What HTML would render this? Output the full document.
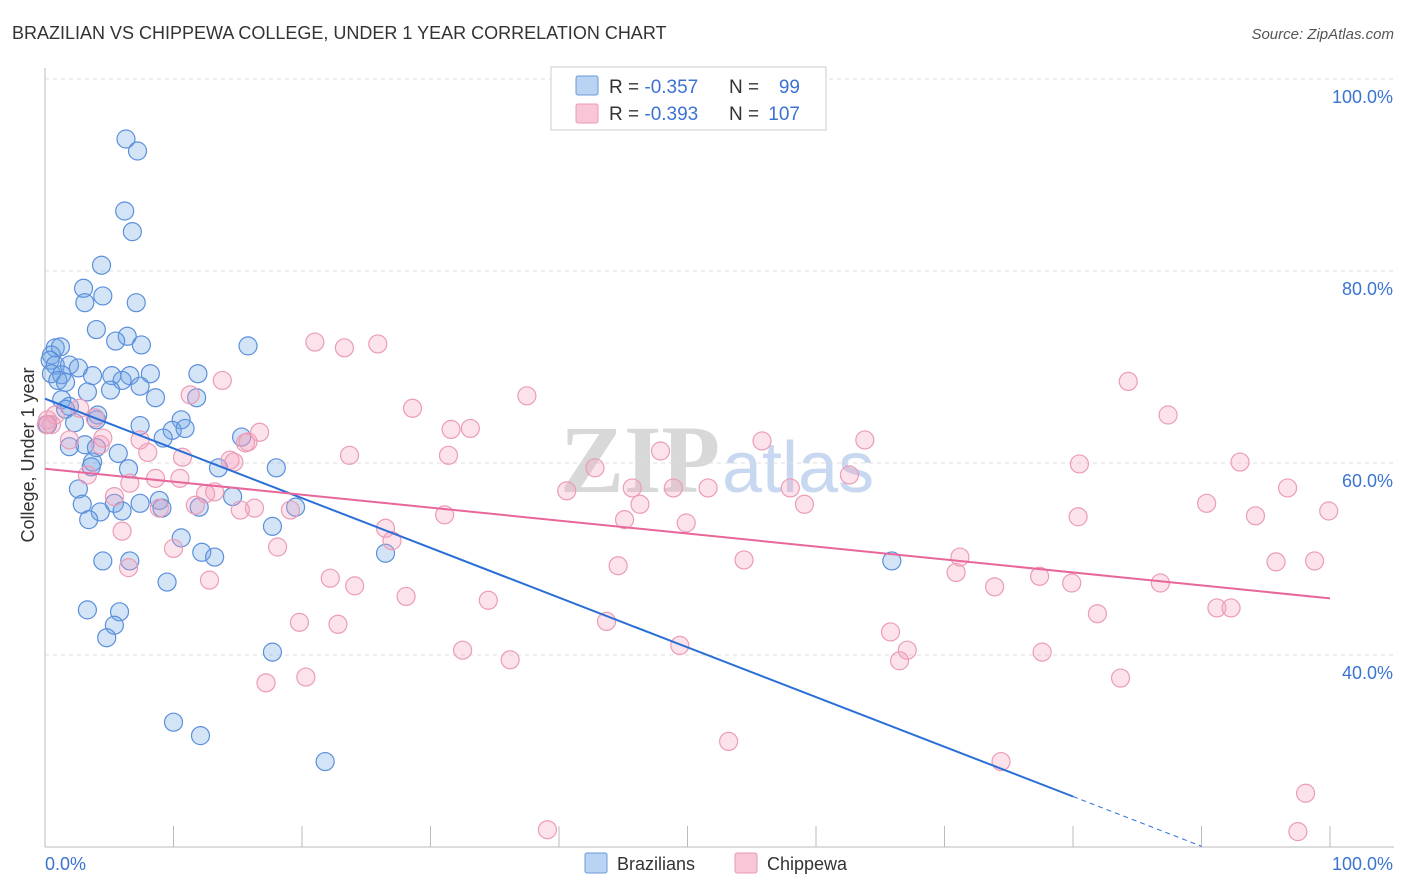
<!DOCTYPE html>
<html><head><meta charset="utf-8"><style>
body{margin:0;background:#fff;font-family:"Liberation Sans",sans-serif}
svg{display:block}
</style></head><body>
<svg id="chart" width="1406" height="892" xmlns="http://www.w3.org/2000/svg">
<text x="12" y="39" font-size="18" fill="#333">BRAZILIAN VS CHIPPEWA COLLEGE, UNDER 1 YEAR CORRELATION CHART</text>
<text x="1394" y="39" font-size="15" fill="#555" text-anchor="end" font-style="italic">Source: ZipAtlas.com</text>
<text x="720" y="492" font-size="96" fill="#d8d8d8" font-weight="bold" text-anchor="end" font-family="Liberation Serif">ZIP</text>
<text x="722" y="492" font-size="72" fill="#c8d8f0">atlas</text>
<g id="grid"></g><g id="pts"></g><g id="lines"></g>
<text transform="translate(34,455) rotate(-90)" font-size="18" fill="#333" text-anchor="middle">College, Under 1 year</text>
<text x="45" y="870" font-size="18" fill="#3b73d1">0.0%</text>
<text x="1393" y="870" font-size="18" fill="#3b73d1" text-anchor="end">100.0%</text>
<g>
<rect x="551" y="67" width="275" height="63" fill="#fff" stroke="#ccc"/>
<rect x="576" y="76" width="22" height="19" fill="#b9d3f3" stroke="#6a9ad8" rx="2"/>
<rect x="576" y="104" width="22" height="19" fill="#f8c6d6" stroke="#e89ab4" rx="2"/>
<text x="609" y="93" font-size="19" fill="#333">R = <tspan fill="#3b73d1">-0.357</tspan></text>
<text x="729" y="93" font-size="19" fill="#333">N =</text>
<text x="800" y="93" font-size="19" fill="#3b73d1" text-anchor="end">99</text>
<text x="609" y="120" font-size="19" fill="#333">R = <tspan fill="#3b73d1">-0.393</tspan></text>
<text x="729" y="120" font-size="19" fill="#333">N =</text>
<text x="800" y="120" font-size="19" fill="#3b73d1" text-anchor="end">107</text>
</g>
<g>
<rect x="585" y="853" width="22" height="20" fill="#b9d3f3" stroke="#6a9ad8" rx="2"/>
<text x="617" y="870" font-size="18" fill="#333">Brazilians</text>
<rect x="735" y="853" width="22" height="20" fill="#f8c6d6" stroke="#e89ab4" rx="2"/>
<text x="767" y="870" font-size="18" fill="#333">Chippewa</text>
</g>
</svg>
<script>
const blueX=[6.3,7.2,6.2,6.8,4.4,3.0,4.5,3.1,7.1,4.0,6.4,5.5,7.5,15.8,0.8,1.2,0.5,0.4,0.8,1.9,2.6,0.5,1.3,1.0,1.6,3.7,5.2,6.6,8.2,11.9,6.0,7.4,5.1,3.3,8.6,11.8,1.3,1.9,1.6,4.1,4.0,10.6,2.3,7.4,9.9,10.9,9.2,15.3,3.1,5.7,1.9,4.0,3.7,3.6,6.5,13.5,18.0,2.6,14.6,8.9,2.9,5.4,7.4,9.1,12.0,19.5,4.3,6.0,3.4,10.6,12.2,17.7,26.5,4.5,6.6,13.2,9.5,3.3,5.8,5.4,4.8,17.7,65.9,10.0,12.1,21.8,0.2];
const blueY=[93.75,92.5,86.25,84.1,80.6,78.2,77.4,76.7,76.7,73.9,73.2,72.7,72.3,72.2,72.0,72.1,71.25,70.7,70.2,70.2,69.9,69.3,69.2,68.6,68.4,69.1,69.1,69.1,69.3,69.3,68.6,68.0,67.6,67.4,66.8,66.8,66.6,65.9,65.6,65.0,64.5,64.5,64.2,63.9,63.4,63.6,62.6,62.7,61.9,61.0,61.7,61.6,60.1,59.6,59.4,59.5,59.5,57.3,56.5,56.1,55.7,55.8,55.8,55.3,55.4,55.4,54.9,55.0,54.1,52.2,50.7,53.4,50.6,49.8,49.8,50.2,47.6,44.7,44.5,43.1,41.8,40.3,49.8,33.0,31.6,28.9,64.0];
const pinkX=[0.8,0.2,0.5,1.9,2.7,3.9,4.3,4.5,3.3,5.4,6.6,6.0,6.5,7.4,8.0,8.6,8.9,10.0,10.5,10.7,11.3,11.7,12.5,12.8,13.2,13.8,14.4,14.7,15.2,15.6,15.8,16.3,16.7,17.2,18.1,19.1,19.8,20.3,21.0,22.2,22.8,23.3,23.7,24.1,25.9,26.5,27.0,28.1,28.6,31.1,31.4,31.6,32.5,33.1,34.5,36.2,37.5,39.1,40.6,42.8,43.7,44.6,45.1,45.7,46.3,47.9,48.9,49.4,49.9,51.6,53.2,54.4,55.8,58.0,59.1,62.6,63.8,65.8,66.5,67.1,70.9,71.2,73.9,74.4,77.4,77.6,79.9,80.4,80.5,81.9,83.7,84.3,86.8,87.4,90.4,91.2,92.3,93.0,94.2,95.8,96.7,98.1,98.8,97.5,99.9,0.1];
const pinkY=[65.0,64.5,64.0,62.4,65.7,64.7,61.9,62.6,58.75,56.5,57.9,52.9,49.1,62.4,61.1,58.4,55.3,51.1,58.4,60.6,67.1,55.6,56.8,47.8,57.0,68.6,60.3,60.1,55.1,62.1,62.2,55.3,63.2,37.1,51.25,55.1,43.4,37.7,72.6,48.0,43.2,72.0,60.8,47.2,72.4,53.2,51.9,46.1,65.7,54.6,60.8,63.5,40.5,63.6,45.7,39.5,67.0,21.8,57.1,59.5,43.5,49.3,54.1,57.4,55.7,61.25,57.4,41.0,53.75,57.4,31.0,49.9,62.3,57.4,55.7,58.75,62.4,42.4,39.4,40.5,48.6,50.2,47.1,28.9,48.2,40.3,47.5,54.4,59.9,44.3,37.6,68.5,47.5,65.0,55.8,44.9,44.9,60.1,54.5,49.7,57.4,25.6,49.8,21.6,55.0,64.0];
const yTicks=[100,80,60,40];
const xTicks=[0,10,20,30,40,50,60,70,80,90,100];
const blueFit=[66.7,-0.518];
const pinkFit=[59.4,-0.135];
const sx=v=>45+v*12.85, sy=v=>1039-v*9.6;
const NS='http://www.w3.org/2000/svg';
function mk(t,a,p){const e=document.createElementNS(NS,t);for(const k in a)e.setAttribute(k,a[k]);p.appendChild(e);return e;}
const g=document.getElementById('grid');
mk('line',{x1:45,y1:847,x2:1394,y2:847,stroke:'#bbb'},g);
mk('line',{x1:45,y1:68,x2:45,y2:847,stroke:'#bbb'},g);
yTicks.forEach(v=>{
 const l=mk('line',{x1:45,y1:sy(v),x2:1394,y2:sy(v),stroke:'#ddd','stroke-dasharray':'4,4'},g);
 
 
 const t=mk('text',{x:1393,y:sy(v)+24,'font-size':18,fill:'#3b73d1','text-anchor':'end'},g);
 t.textContent=v.toFixed(1)+'%';
 
 
});
xTicks.forEach(v=>{
 const l=mk('line',{x1:sx(v),y1:826,x2:sx(v),y2:847,stroke:'#bbb'},g);
 
 
});
const p=document.getElementById('pts');
blueX.forEach((x,i)=>{
 const c=mk('circle',{cx:sx(x),cy:sy(blueY[i]),r:9,fill:'rgba(110,165,230,0.3)',stroke:'#5b8fdb','stroke-width':1.2},p);
 
 
});
pinkX.forEach((x,i)=>{
 const c=mk('circle',{cx:sx(x),cy:sy(pinkY[i]),r:9,fill:'rgba(245,160,190,0.3)',stroke:'#eb9cb7','stroke-width':1.2},p);
 
 
});
const L=document.getElementById('lines');
const bf=x=>blueFit[0]+blueFit[1]*x, pf=x=>pinkFit[0]+pinkFit[1]*x;
const b1=mk('line',{x1:sx(0),y1:sy(bf(0)),x2:sx(80),y2:sy(bf(80)),stroke:'#2a6fd6','stroke-width':2},L);


const b2=mk('line',{x1:sx(80),y1:sy(bf(80)),x2:sx(90),y2:sy(bf(90)),stroke:'#2a6fd6','stroke-width':1,'stroke-dasharray':'5,4'},L);


const p1=mk('line',{x1:sx(0),y1:sy(pf(0)),x2:sx(100),y2:sy(pf(100)),stroke:'#e8669a','stroke-width':2},L);


</script>
</body></html>
